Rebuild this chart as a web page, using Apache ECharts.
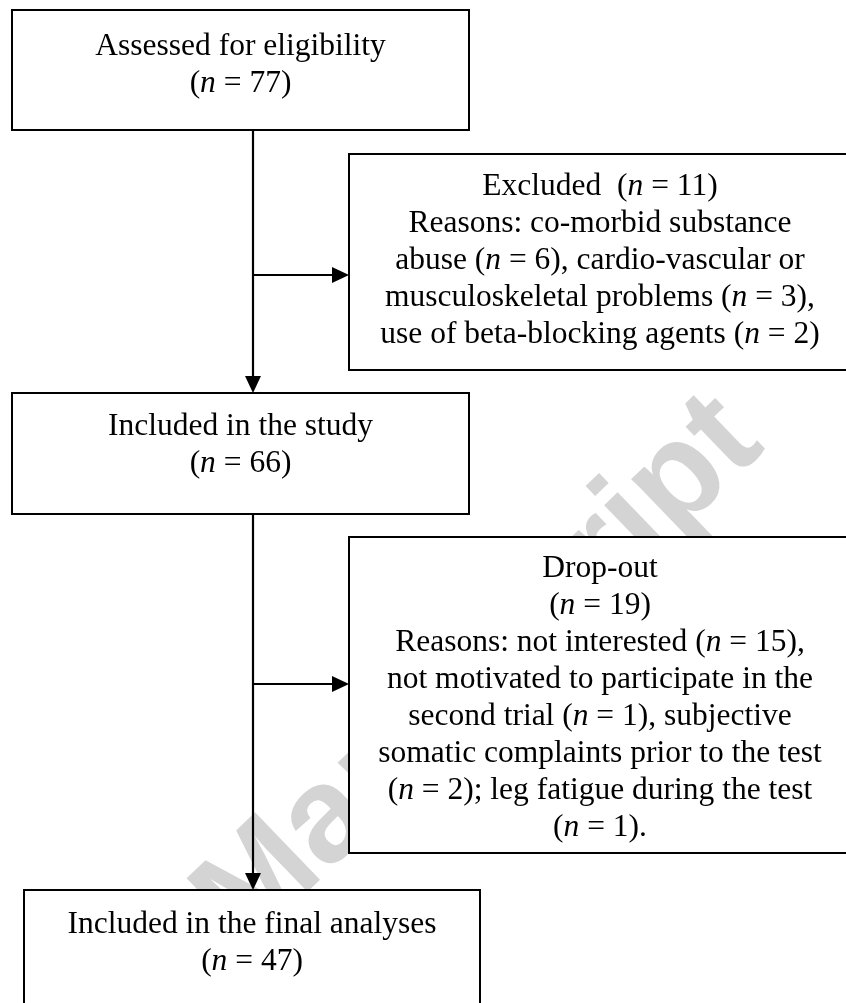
<!DOCTYPE html>
<html lang="en">
<head>
<meta charset="UTF-8">
<title>Flow of participants</title>
<style>
  html, body { margin: 0; padding: 0; background: #fff; }
  #chart { width: 846px; height: 1003px; }
</style>
</head>
<body>
<div id="chart"></div>
<script src="https://cdn.jsdelivr.net/npm/echarts@6/dist/echarts.min.js"></script>
<script>
// box contents ({i|n} = italic n)
var stageLabels = ['Assessed for eligibility', 'Included in the study', 'Included in the final analyses'];
var stageCounts = [77, 66, 47];

var excludedCount = 11;
var excludedLines = [
  'Reasons: co-morbid substance',
  'abuse ({i|n} = 6), cardio-vascular or',
  'musculoskeletal problems ({i|n} = 3),',
  'use of beta-blocking agents ({i|n} = 2)'
];

var dropoutCount = 19;
var dropoutLines = [
  'Reasons: not interested ({i|n} = 15),',
  'not motivated to participate in the',
  'second trial ({i|n} = 1), subjective',
  'somatic complaints prior to the test',
  '({i|n} = 2); leg fatigue during the test',
  '({i|n} = 1).'
];

var watermarkText = 'Accepted Manuscript';

// layout (pixels)
var serif = '"Liberation Serif", "Times New Roman", serif';
var fs = 31.5, lh = 37;
var boxes = {
  assessed: { x: 12, y: 10, w: 457, h: 120, pad: 18 },
  excluded: { x: 349, y: 154, w: 502, h: 216, pad: 14 },
  included: { x: 12, y: 393, w: 457, h: 121, pad: 15 },
  dropout:  { x: 349, y: 537, w: 502, h: 316, pad: 13 },
  final:    { x: 24, y: 890, w: 456, h: 130, pad: 16 }
};
var spineX = 253;

function box(b) {
  return {
    type: 'rect', z: 5,
    shape: { x: b.x, y: b.y, width: b.w, height: b.h },
    style: { fill: '#fff', stroke: '#000', lineWidth: 2 }
  };
}

function label(b, lines) {
  return {
    type: 'text', z: 10,
    x: b.x + b.w / 2, y: b.y + b.pad,
    style: {
      text: lines.join('\n'),
      fontSize: fs, fontFamily: serif, lineHeight: lh, fill: '#000',
      align: 'center', verticalAlign: 'top',
      textAlign: 'center', textVerticalAlign: 'top',
      rich: {
        i: { fontSize: fs, fontFamily: serif, lineHeight: lh, fontStyle: 'italic', fill: '#000' }
      }
    }
  };
}

function seg(x1, y1, x2, y2) {
  return {
    type: 'line', z: 6,
    shape: { x1: x1, y1: y1, x2: x2, y2: y2 },
    style: { stroke: '#000', lineWidth: 2.2 }
  };
}

// arrow head pointing right or down, tip at (x, y)
function head(x, y, dir) {
  var L = 17, H = 8;
  var pts = dir === 'right'
    ? [[x, y], [x - L, y - H], [x - L, y + H]]
    : [[x, y], [x - H, y - L], [x + H, y - L]];
  return { type: 'polygon', z: 7, shape: { points: pts }, style: { fill: '#000' } };
}

function countLine(n) { return '({i|n} = ' + n + ')'; }

var els = [];

// watermark behind everything
els.push({
  type: 'text', z: 1,
  x: 788, y: 470, rotation: 44 * Math.PI / 180,
  style: {
    text: watermarkText, fontSize: 136, fontWeight: 'bold',
    fontFamily: '"Liberation Sans", Arial, sans-serif', fill: '#d4d4d4',
    align: 'right', verticalAlign: 'bottom',
    textAlign: 'right', textVerticalAlign: 'bottom'
  }
});

var A = boxes.assessed, E = boxes.excluded, I = boxes.included, D = boxes.dropout, F = boxes.final;

// connectors
var y1 = 275, y2 = 684;
els.push(seg(spineX, A.y + A.h, spineX, I.y - 14));
els.push(head(spineX, I.y, 'down'));
els.push(seg(spineX, y1, E.x - 14, y1));
els.push(head(E.x, y1, 'right'));
els.push(seg(spineX, I.y + I.h, spineX, F.y - 14));
els.push(head(spineX, F.y, 'down'));
els.push(seg(spineX, y2, D.x - 14, y2));
els.push(head(D.x, y2, 'right'));

// boxes
[A, E, I, D, F].forEach(function (b) { els.push(box(b)); });

els.push(label(A, [stageLabels[0], countLine(stageCounts[0])]));
els.push(label(E, ['Excluded  ' + countLine(excludedCount)].concat(excludedLines)));
els.push(label(I, [stageLabels[1], countLine(stageCounts[1])]));
els.push(label(D, ['Drop-out', countLine(dropoutCount)].concat(dropoutLines)));
els.push(label(F, [stageLabels[2], countLine(stageCounts[2])]));

var chart = echarts.init(document.getElementById('chart'));
chart.setOption({
  backgroundColor: '#fff',
  animation: false,
  graphic: els
});
</script>
</body>
</html>
